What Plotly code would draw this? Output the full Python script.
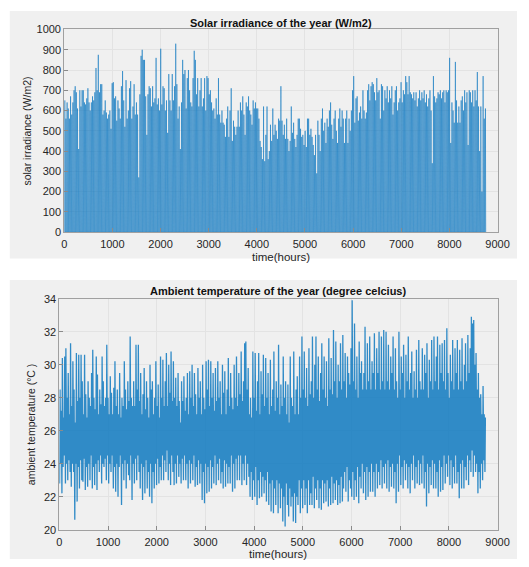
import plotly.graph_objects as go

# ---------------- data ----------------
# daily peak solar irradiance (W/m2), day 0 .. 364
irr_peak = [
    650, 560, 640, 610, 560, 670, 580, 640, 700, 720,
    690, 610, 410, 700, 620, 700, 700, 640, 630, 660,
    710, 640, 600, 640, 670, 650, 690, 810, 700, 875,
    690, 730, 730, 580, 600, 650, 590, 560, 580, 600,
    510, 735, 740, 660, 670, 550, 650, 610, 560, 720,
    795, 650, 520, 750, 560, 600, 710, 745, 560, 620,
    730, 580, 640, 580, 270, 680, 870, 900, 850, 850,
    670, 480, 680, 720, 710, 620, 720, 640, 660, 860,
    630, 660, 600, 905, 630, 720, 710, 600, 650, 490,
    780, 650, 600, 780, 650, 720, 930, 730, 560, 620,
    410, 640, 850, 780, 800, 610, 760, 800, 700, 640,
    620, 760, 895, 850, 680, 760, 620, 700, 760, 620,
    660, 760, 600, 770, 760, 680, 700, 640, 600, 610,
    560, 660, 580, 760, 580, 540, 600, 540, 530, 470,
    560, 620, 470, 600, 710, 450, 550, 520, 480, 520,
    600, 520, 640, 600, 670, 580, 480, 640, 620, 670,
    600, 580, 530, 650, 610, 640, 610, 610, 560, 450,
    420, 360, 620, 350, 480, 620, 360, 400, 530, 450,
    610, 480, 530, 500, 460, 560, 550, 720, 550, 480,
    530, 460, 560, 460, 400, 450, 620, 490, 540, 460,
    420, 480, 560, 560, 510, 470, 480, 430, 500, 420,
    560, 560, 480, 510, 470, 430, 380, 480, 290, 550,
    480, 400, 560, 610, 500, 540, 440, 560, 520, 600,
    640, 530, 460, 560, 600, 500, 440, 560, 610, 520,
    600, 560, 440, 560, 600, 440, 560, 500, 600, 700,
    770, 540, 660, 670, 550, 590, 620, 560, 700, 600,
    560, 590, 700, 730, 650, 720, 740, 730, 690, 650,
    760, 690, 700, 560, 730, 720, 600, 700, 660, 720,
    640, 700, 660, 720, 580, 640, 700, 720, 600, 640,
    660, 740, 640, 700, 680, 770, 740, 680, 770, 690,
    680, 660, 690, 650, 690, 620, 660, 700, 650, 690,
    660, 700, 640, 680, 620, 660, 700, 600, 340, 770,
    670, 640, 660, 690, 680, 700, 660, 690, 700, 640,
    700, 690, 700, 860, 440, 640, 600, 540, 840, 650,
    540, 620, 540, 650, 670, 600, 700, 640, 690, 430,
    700, 690, 640, 700, 620, 700, 650, 790, 620, 400,
    620, 200, 770, 560, 610,
]

# daily maximum ambient temperature (deg C)
t_max = [
    28.5, 27.2, 30.4, 26.8, 30.5, 31.0, 28.0, 29.5, 27.0, 31.3,
    27.5, 30.2, 28.5, 26.5, 30.7, 27.8, 30.6, 28.0, 30.6, 29.0,
    27.0, 30.6, 28.2, 26.8, 29.0, 28.0, 27.5, 29.5, 30.9, 28.0,
    27.3, 30.5, 29.4, 27.0, 28.5, 27.6, 30.5, 29.0, 27.5, 28.0,
    31.2, 28.0, 27.0, 29.3, 28.3, 27.0, 28.6, 30.2, 27.5, 28.5,
    27.0, 29.5, 26.8, 28.0, 27.5, 30.2, 28.5, 27.3, 29.0, 27.8,
    31.7, 28.0, 27.5, 29.0, 27.5, 31.2, 28.5, 31.2, 27.8, 29.5,
    27.0, 28.2, 29.8, 27.3, 29.0, 28.0, 26.8, 30.0, 28.5, 29.0,
    27.0, 28.0, 30.2, 27.5, 28.8, 26.8, 30.5, 28.0, 30.3, 27.5,
    29.0, 30.7, 27.5, 30.0, 28.3, 30.8, 27.8, 30.2, 28.0, 29.2,
    27.5, 29.5, 27.8, 26.5, 29.0, 27.8, 29.3, 27.2, 28.0, 29.5,
    27.0, 29.6, 28.0, 30.0, 27.5, 29.5, 28.2, 27.0, 29.8, 28.0,
    29.0, 27.0, 30.0, 28.0, 27.3, 30.2, 28.5, 30.3, 27.5, 30.2,
    28.0, 29.5, 27.2, 29.8, 27.8, 30.2, 28.0, 29.0, 27.0, 30.0,
    28.3, 29.6, 27.0, 28.5, 30.4, 27.5, 29.5, 28.0, 27.3, 30.0,
    28.0, 30.5, 27.5, 29.5, 28.2, 30.8, 27.8, 29.0, 31.3, 31.4,
    28.5, 29.8, 27.0, 28.0, 26.8, 30.8, 28.0, 30.7, 27.2, 29.0,
    30.7, 27.0, 29.6, 28.2, 30.6, 27.5, 30.4, 28.0, 29.5, 27.0,
    30.3, 27.5, 28.5, 30.8, 27.2, 29.0, 28.0, 31.2, 27.0, 28.8,
    27.5, 30.5, 28.0, 29.0, 27.0, 28.8, 26.5, 30.5, 28.0, 27.5,
    30.8, 27.0, 28.5, 29.3, 27.0, 30.5, 28.0, 31.7, 28.5, 30.8,
    28.0, 29.8, 27.5, 31.0, 28.2, 29.0, 31.7, 28.0, 30.0, 31.7,
    28.5, 30.5, 27.8, 29.5, 31.3, 28.5, 30.5, 28.0, 30.2, 27.5,
    31.6, 28.5, 30.4, 28.2, 32.1, 29.0, 31.4, 28.0, 30.0, 29.0,
    31.3, 28.5, 31.8, 29.0, 30.7, 28.0, 30.5, 29.5, 28.8, 31.0,
    33.9, 29.0, 32.5, 28.5, 30.5, 28.0, 31.4, 29.5, 30.2, 28.5,
    29.5, 32.3, 28.5, 31.3, 29.0, 31.7, 28.5, 30.2, 29.5, 31.9,
    28.5, 31.0, 29.5, 32.0, 28.5, 31.7, 29.0, 32.1, 28.5, 32.0,
    29.0, 31.2, 28.5, 30.5, 29.5, 31.7, 28.5, 31.0, 29.0, 28.0,
    32.0, 28.5, 30.5, 29.5, 31.2, 28.0, 30.6, 29.0, 31.7, 28.5,
    29.5, 30.8, 28.0, 29.6, 28.5, 30.9, 28.0, 31.5, 29.0, 28.5,
    31.0, 28.5, 30.6, 29.5, 31.3, 28.0, 30.3, 29.0, 31.5, 28.5,
    31.7, 29.0, 30.5, 31.7, 28.5, 31.2, 29.5, 31.3, 29.0, 31.5,
    28.5, 32.2, 29.5, 28.0, 30.6, 29.0, 31.5, 28.5, 31.0, 29.5,
    31.5, 28.5, 30.9, 29.0, 31.6, 28.5, 30.0, 31.3, 29.0, 31.8,
    29.5, 31.0, 32.9, 32.5, 32.7, 30.0, 30.7, 28.5, 29.5, 28.0,
    28.2, 27.0, 28.7, 27.0, 26.8,
]

# daily minimum ambient temperature (deg C)
t_min = [
    22.8, 24.0, 22.2, 23.8, 24.5, 22.8, 24.0, 23.0, 24.2, 23.5,
    22.6, 24.0, 23.5, 20.6, 24.0, 21.7, 23.8, 22.5, 24.2, 23.0,
    22.9, 24.3, 22.4, 23.8, 22.6, 24.0, 23.0, 24.5, 22.5, 23.8,
    22.7, 24.0, 22.4, 24.2, 23.5, 24.5, 22.8, 24.0, 23.8, 24.3,
    23.0, 24.5, 22.8, 24.0, 23.5, 24.5, 22.5, 23.8, 22.3, 24.0,
    22.0, 23.8, 24.5, 21.5, 24.0, 23.0, 24.2, 22.5, 24.0, 23.3,
    23.0, 24.5, 21.8, 24.0, 22.8, 24.3, 23.0, 24.5, 23.5, 22.5,
    24.0, 21.8, 23.8, 22.2, 24.2, 22.5, 23.5, 22.0, 24.0, 21.6,
    23.5, 22.5, 24.0, 22.7, 24.3, 22.8, 23.8, 23.0, 24.5, 23.0,
    24.2, 23.5, 24.8, 23.0, 24.0, 22.7, 24.5, 23.5, 22.7, 24.0,
    22.8, 24.5, 23.2, 24.0, 22.8, 24.3, 23.0, 24.5, 23.0, 24.0,
    22.5, 24.2, 22.8, 24.0, 23.0, 24.5, 22.6, 23.8, 22.7, 24.2,
    22.8, 24.0, 21.8, 23.5, 21.6, 24.0, 22.2, 23.8, 22.3, 24.2,
    22.5, 23.8, 22.8, 24.5, 22.7, 24.0, 23.0, 24.3, 22.8, 23.5,
    22.5, 24.2, 22.6, 24.0, 22.8, 23.8, 22.8, 24.5, 22.3, 24.0,
    22.5, 24.3, 23.0, 24.5, 23.0, 24.5, 22.7, 24.0, 23.0, 24.5,
    22.7, 24.0, 23.2, 22.0, 23.5, 21.8, 23.0, 22.0, 23.8, 21.5,
    23.0, 21.9, 23.5, 22.0, 23.2, 22.2, 23.0, 21.7, 23.5, 21.5,
    22.8, 21.1, 23.0, 21.0, 22.5, 21.5, 23.0, 21.0, 22.8, 21.3,
    22.5, 20.5, 22.0, 20.2, 22.8, 21.5, 20.8, 22.5, 21.4, 22.0,
    20.5, 22.2, 20.4, 22.0, 21.5, 23.0, 21.0, 22.5, 21.3, 23.0,
    21.5, 22.5, 21.0, 23.0, 21.5, 22.2, 21.5, 23.2, 21.3, 22.5,
    21.8, 23.0, 21.3, 22.5, 21.2, 23.0, 21.6, 22.8, 21.7, 23.0,
    21.4, 22.5, 21.5, 23.2, 21.6, 22.8, 21.8, 23.0, 21.5, 22.7,
    21.6, 23.2, 21.7, 22.5, 23.5, 22.3, 23.8, 21.7, 23.0, 22.5,
    22.0, 23.5, 21.8, 23.0, 22.0, 23.8, 21.6, 23.2, 22.5, 24.0,
    22.2, 23.5, 21.8, 23.8, 22.0, 23.5, 22.3, 24.0, 22.3, 23.5,
    22.0, 24.0, 22.5, 23.5, 22.7, 24.2, 22.5, 23.8, 22.8, 24.0,
    22.5, 24.2, 22.3, 23.8, 22.6, 24.0, 22.5, 23.5, 21.6, 24.0,
    22.3, 24.5, 22.7, 23.8, 22.5, 24.2, 23.0, 24.0, 22.5, 23.8,
    22.2, 24.0, 23.0, 24.5, 22.5, 23.8, 22.8, 24.2, 22.7, 24.0,
    22.8, 24.5, 22.5, 23.5, 21.4, 24.0, 22.2, 23.8, 22.7, 24.2,
    22.5, 24.0, 22.5, 23.5, 22.0, 24.2, 22.3, 23.8, 22.4, 24.5,
    22.8, 24.0, 23.2, 24.5, 22.7, 24.2, 22.5, 23.8, 22.8, 24.5,
    22.8, 23.5, 21.9, 24.0, 22.5, 24.2, 22.5, 23.8, 23.0, 24.5,
    22.7, 24.2, 23.5, 24.8, 23.2, 24.5, 23.5, 24.0, 22.2, 23.5,
    22.5, 24.0, 23.0, 24.2, 23.5,
]

x_ticks = [0, 1000, 2000, 3000, 4000, 5000, 6000, 7000, 8000, 9000]
irr_ticks = [0, 100, 200, 300, 400, 500, 600, 700, 800, 900, 1000]
temp_ticks = [20, 22, 24, 26, 28, 30, 32, 34]

# hour-of-day positions for the daily samples
SUNRISE, NOON, SUNSET = 6, 12, 18
T_MIN_HOUR, T_MAX_HOUR = 5, 14

# ---------------- build series ----------------
irr_x, irr_y = [], []
for d, p in enumerate(irr_peak):
    irr_x += [24 * d + SUNRISE, 24 * d + NOON, 24 * d + SUNSET]
    irr_y += [0, p, 0]

tmp_x, tmp_y = [], []
for d, (lo, hi) in enumerate(zip(t_min, t_max)):
    tmp_x += [24 * d + T_MIN_HOUR, 24 * d + T_MAX_HOUR]
    tmp_y += [lo, hi]

W, H = 529, 567
def px(v):
    return v / W
def py(v):
    return 1 - v / H

FONT = "Liberation Sans, Arial, sans-serif"
TXT = "#262626"

fig = go.Figure()
fig.add_trace(go.Scatter(x=irr_x, y=irr_y, mode="lines",
                         line=dict(color="rgba(0,114,189,0.66)", width=0.8), xaxis="x", yaxis="y",
                         showlegend=False, hoverinfo="skip"))
fig.add_trace(go.Scatter(x=tmp_x, y=tmp_y, mode="lines",
                         line=dict(color="rgba(0,114,189,0.8)", width=1.3), xaxis="x2", yaxis="y2",
                         showlegend=False, hoverinfo="skip"))

axis_common = dict(
    showline=True, mirror=True, linecolor="#a0a0a0", linewidth=1,
    showgrid=True, gridcolor="#e3e3e3", gridwidth=1,
    ticks="inside", ticklen=4, tickcolor="#8a8a8a",
    tickfont=dict(family=FONT, size=11, color=TXT),
    zeroline=False,
)

fig.update_layout(
    width=W, height=H,
    margin=dict(l=0, r=0, t=0, b=0),
    paper_bgcolor="white", plot_bgcolor="white",
    xaxis=dict(domain=[px(63), px(509)], range=[0, 9000], tickvals=x_ticks,
               anchor="y", ticklabelstandoff=2, **axis_common),
    yaxis=dict(domain=[py(231), py(24)], range=[0, 1000], tickvals=irr_ticks,
               anchor="x", **axis_common),
    xaxis2=dict(domain=[px(58), px(509)], range=[0, 9000], tickvals=x_ticks,
                anchor="y2", ticklabelstandoff=2, **axis_common),
    yaxis2=dict(domain=[py(535), py(299)], range=[20, 34], tickvals=temp_ticks,
                anchor="x2", **axis_common),
    shapes=[
        dict(type="rect", xref="paper", yref="paper", layer="below",
             x0=px(7), x1=1, y0=py(258), y1=py(5),
             fillcolor="#f0f0f0", line=dict(width=0)),
        dict(type="rect", xref="paper", yref="paper", layer="below",
             x0=px(7), x1=1, y0=py(565), y1=py(280),
             fillcolor="#f0f0f0", line=dict(width=0)),
    ],
    annotations=[
        dict(text="<b>Solar irradiance of the year (W/m2)</b>", xref="paper", yref="paper",
             x=px(286), y=py(17), showarrow=False, xanchor="center", yanchor="middle",
             font=dict(family=FONT, size=11, color="#111")),
        dict(text="time(hours)", xref="paper", yref="paper",
             x=px(286), y=py(248), showarrow=False, xanchor="center", yanchor="top",
             font=dict(family=FONT, size=11.5, color=TXT)),
        dict(text="solar irradiance (W/m2)", xref="paper", yref="paper", textangle=-90,
             x=px(25), y=py(128), showarrow=False, xanchor="center", yanchor="middle",
             font=dict(family=FONT, size=10.5, color=TXT)),
        dict(text="<b>Ambient temperature of the year (degree celcius)</b>", xref="paper", yref="paper",
             x=px(283), y=py(291), showarrow=False, xanchor="center", yanchor="middle",
             font=dict(family=FONT, size=11, color="#111")),
        dict(text="time(hours)", xref="paper", yref="paper",
             x=px(283), y=py(552), showarrow=False, xanchor="center", yanchor="top",
             font=dict(family=FONT, size=11.5, color=TXT)),
        dict(text="ambient temperature (°C )", xref="paper", yref="paper", textangle=-90,
             x=px(29), y=py(427), showarrow=False, xanchor="center", yanchor="middle",
             font=dict(family=FONT, size=10.5, color=TXT)),
    ],
)

fig.write_html("out.html")
